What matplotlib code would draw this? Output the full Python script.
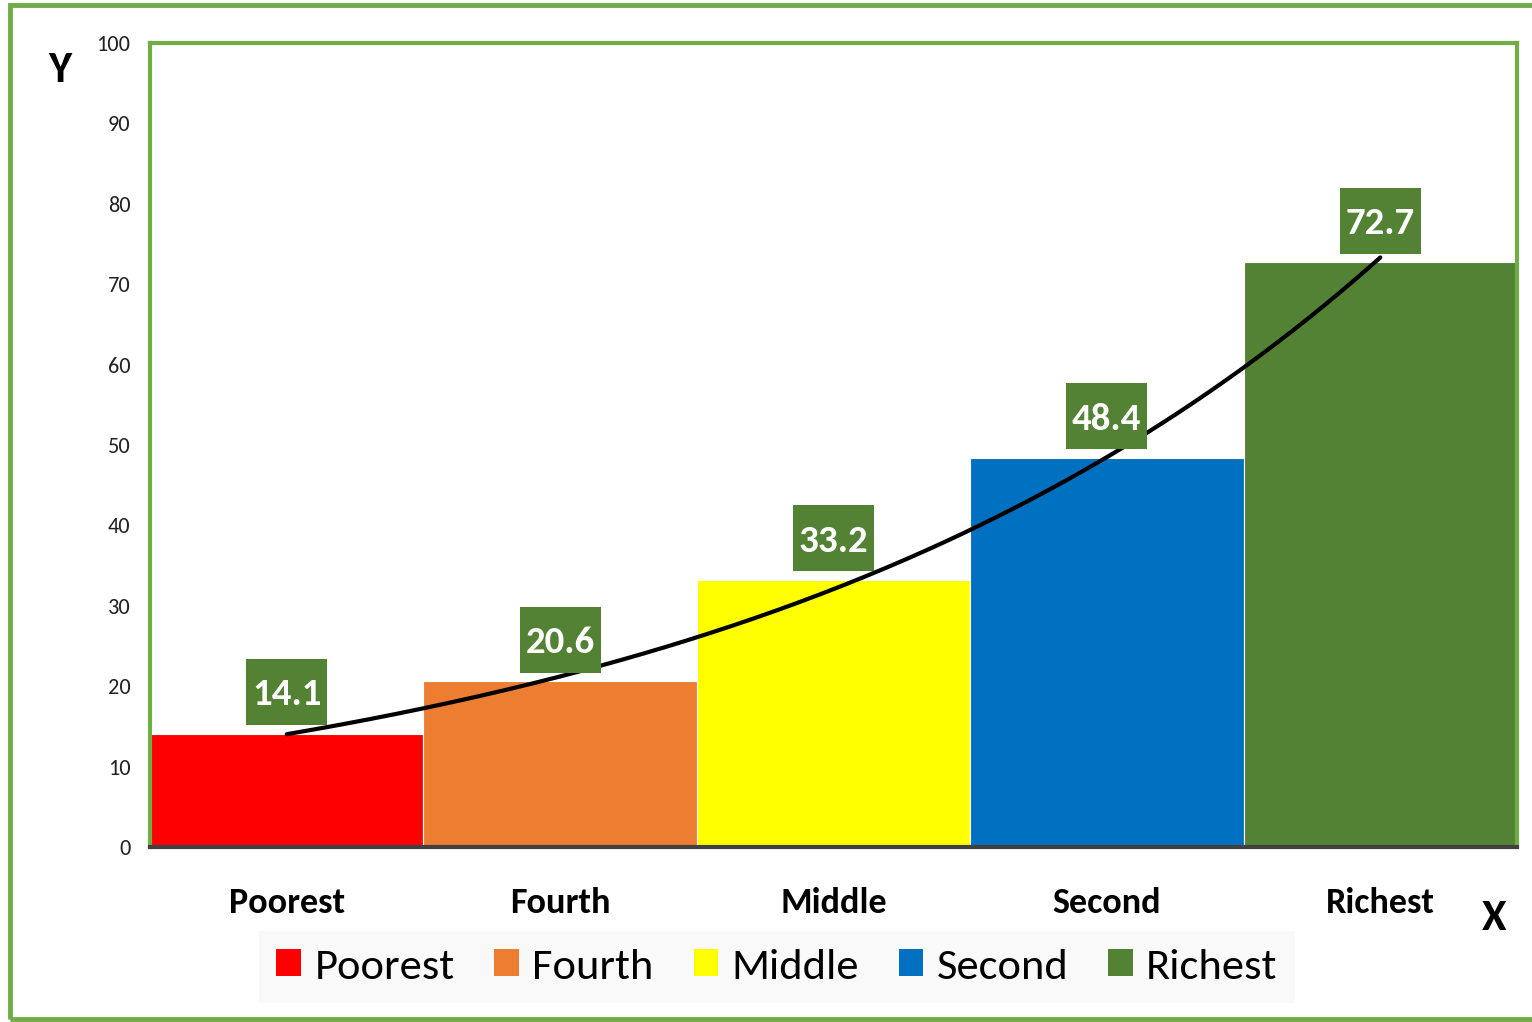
"""
Bar chart of wealth quintiles with exponential trend line.
"""

import numpy as np
import matplotlib.pyplot as plt
from matplotlib.patches import Rectangle, Patch

# Data
categories = ['Poorest', 'Fourth', 'Middle', 'Second', 'Richest']
values = [14.1, 20.6, 33.2, 48.4, 72.7]
bar_colors = ['#FF0000', '#ED7D31', '#FFFF00', '#0070C0', '#548235']
y_ticks = [0, 10, 20, 30, 40, 50, 60, 70, 80, 90, 100]

FONT = ['Carlito', 'Open Sans', 'DejaVu Sans']
plt.rcParams['font.family'] = FONT

W, H = 1532, 1022
fig = plt.figure(figsize=(W / 100, H / 100), dpi=100)

# Outer green frame
fig.patches.append(Rectangle((10 / W, 1 - 1019 / H), 1.2, 1014 / H,
                             transform=fig.transFigure, fill=False,
                             edgecolor='#70AD47', linewidth=3.5, zorder=0))

ax = fig.add_axes([150 / W, 1 - 847 / H, (1517 - 150) / W, (847 - 43) / H])

x = np.arange(len(categories))
ax.bar(x, values, width=1.0, color=bar_colors, edgecolor='white',
       linewidth=0.8, zorder=2)

# Exponential trend line fitted to the bar values
b, a = np.polyfit(x, np.log(values), 1)
xs = np.linspace(0, len(categories) - 1, 200)
ax.plot(xs, np.exp(a + b * xs), color='black', linewidth=3,
        solid_capstyle='round', zorder=3)

# Value labels in green boxes
box_w, box_h = 0.296, 8.2
for xi, v in zip(x, values):
    yc = v + 5.2
    ax.add_patch(Rectangle((xi - box_w / 2, yc - box_h / 2), box_w, box_h,
                           facecolor='#548235', edgecolor='none', zorder=4))
    ax.text(xi, yc, f'{v}', ha='center', va='center_baseline', color='white',
            fontsize=28, fontweight='bold', zorder=5)

ax.set_xlim(-0.5, len(categories) - 0.5)
ax.set_ylim(0, 100)
ax.set_yticks(y_ticks)
ax.set_yticklabels([str(t) for t in y_ticks], fontsize=16, color='#222222')
ax.tick_params(axis='y', length=0, pad=14)
ax.set_xticks(x)
ax.set_xticklabels(categories, fontsize=26, fontweight='bold')
ax.tick_params(axis='x', length=0, pad=29)

for side in ['left', 'top', 'right']:
    ax.spines[side].set_color('#70AD47')
    ax.spines[side].set_linewidth(3)
ax.spines['bottom'].set_color('#404040')
ax.spines['bottom'].set_linewidth(3)
ax.spines['bottom'].set_zorder(5)

# Axis letters
fig.text(60 / W, 1 - 70 / H, 'Y', fontsize=32, fontweight='bold',
         ha='center', va='center')
fig.text(1494 / W, 1 - 918 / H, 'X', fontsize=32, fontweight='bold',
         ha='center', va='center')

# Legend
handles = [Patch(facecolor=c, edgecolor='none') for c in bar_colors]
leg = fig.legend(handles, categories, loc='center',
                 bbox_to_anchor=(777 / W, 1 - 967 / H), ncol=5,
                 fontsize=32, frameon=True, fancybox=False,
                 handlelength=0.55, handleheight=0.55, handletextpad=0.3,
                 columnspacing=0.9, borderpad=0.4)
leg.get_frame().set_facecolor('#F8F8F8')
leg.get_frame().set_edgecolor('none')

fig.savefig('out.png', dpi=100)
